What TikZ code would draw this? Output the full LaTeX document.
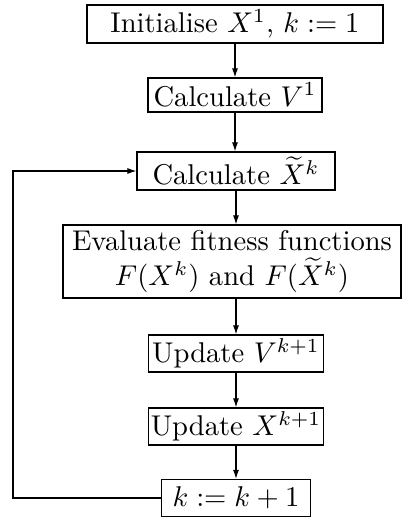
\documentclass[tikz,border=0pt]{standalone}
\usetikzlibrary{arrows.meta}
\def\f{0.35}
\begin{document}
\begin{tikzpicture}[x=\f pt,y=-\f pt,
  box/.style={draw,line width=1.2*\f pt,inner sep=0pt,align=center,font=\fontsize{10}{12.2}\selectfont},
  arr/.style={line width=1.1*\f pt,-{Latex[length=9*\f pt,width=6*\f pt]}}]
\useasboundingbox (0,0) rectangle (402,519);
\node[box,minimum width=296*\f pt,minimum height=38*\f pt] (b1) at (235,24) {Initialise $X^1$, $k:=1$};
\node[box,minimum width=174*\f pt,minimum height=34*\f pt] (b2) at (235,95) {Calculate $V^1$};
\node[box,minimum width=198*\f pt,minimum height=38*\f pt] (b3) at (236,171) {Calculate $\widetilde{X}^k$};
\node[box,minimum width=338*\f pt,minimum height=73*\f pt] (b4) at (232,261.5) {Evaluate fitness functions\\$F(X^k)$ and $F(\widetilde{X}^k)$};
\node[box,minimum width=175*\f pt,minimum height=37*\f pt] (b5) at (236,353.5) {Update $V^{k+1}$};
\node[box,minimum width=175*\f pt,minimum height=37*\f pt] (b6) at (236,426.5) {Update $X^{k+1}$};
\node[box,minimum width=149*\f pt,minimum height=37*\f pt] (b7) at (236,498) {$k:=k+1$};
\coordinate (c2) at (13,171);
\draw[arr] (b1) -- (b2);
\draw[arr] (b2.south) -- (b2.south |- b3.north);
\draw[arr] (b3.south) -- (b3.south |- b4.north);
\draw[arr] (b3.south |- b4.south) -- (b5.north);
\draw[arr] (b5) -- (b6);
\draw[arr] (b6) -- (b7);
\draw[arr] (b7.west) -| (c2) -- (b3.west);
\end{tikzpicture}
\end{document}
